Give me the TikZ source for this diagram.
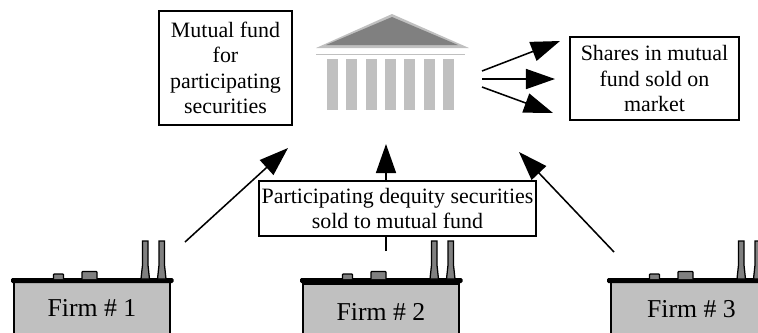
\documentclass[tikz,border=0pt]{standalone}
\usepackage{fontspec}
\setmainfont{Liberation Serif}
\usepackage{tikz}
\usetikzlibrary{arrows.meta, positioning}
\definecolor{bankgray}{HTML}{C0C0C0}
\definecolor{roofgray}{HTML}{808080}
\tikzset{
  labelbox/.style={draw,line width=1.1pt,fill=white,align=center,inner sep=0pt,font=\fontsize{15.6}{18.1}\selectfont},
  firmbox/.style={draw,line width=1.2pt,fill=bankgray,minimum height=56*0.025cm,inner sep=0pt,font=\fontsize{18.3}{20}\selectfont},
  flowarrow/.style={line width=1.1pt,-{Triangle[length=7.25mm,width=5mm]}},
  chimney/.style={draw,line width=.9pt,fill=roofgray}
}
\begin{document}
\begin{tikzpicture}[x=.025cm,y=-.025cm]
      \useasboundingbox(0,0)rectangle(758,332);
      % bank
      \fill[bankgray](392,14)--(316,48)--(469,48)--cycle;
      \fill[roofgray](392,17)--(326,45)--(458,45)--cycle;
      \draw[bankgray,line width=.7pt](316,54)--(465,54);
      \foreach \x in {0,...,6}
        \fill[bankgray](327+\x*19.3,59)rectangle++(11,51);
      % arrows to and from the bank
      \coordinate(bankout1)at(482,71);
      \coordinate(bankout2)at(482,79);
      \coordinate(bankout3)at(482,87);
      \coordinate(mkt1)at(560,41);
      \coordinate(mkt2)at(555,79);
      \coordinate(mkt3)at(553,113);
      \draw[flowarrow](bankout1)--(mkt1);
      \draw[flowarrow](bankout2)--(mkt2);
      \draw[flowarrow](bankout3)--(mkt3);
      \coordinate(from1)at(185,242);
      \coordinate(from2)at(386,251);
      \coordinate(from3)at(614,252);
      \coordinate(bank1)at(288,148);
      \coordinate(bank2)at(386,144);
      \coordinate(bank3)at(519,152);
      \draw[flowarrow](from1)--(bank1);
      \draw[flowarrow](from2)--(bank2);
      \draw[flowarrow](from3)--(bank3);
      % boxes
      \node[labelbox,minimum width=133*0.025cm,minimum height=114*0.025cm](fund)at(225.5,68){Mutual fund\\for\\participating\\securities};
      \node[labelbox,minimum width=169*0.025cm,minimum height=83*0.025cm](shares)at(654.5,78.5){Shares in mutual\\fund sold on\\market};
      \node[labelbox,minimum width=277*0.025cm,minimum height=55*0.025cm](sold)at(397.5,208.5){Participating dequity securities\\sold to mutual fund};
      % firms
      \foreach \off/\txt/\name/\ty/\cx/\boxw in {0/1/firm1/308/92/156,289/2/firm2/312/381/156,596/3/firm3/309/691.5/161}{
        \node[firmbox,minimum width=\boxw*0.025cm](\name)at(\cx,\ty){Firm \# \txt};
        \fill[rounded corners=1pt](11+\off,278)rectangle(173.5+\off,283);
        \draw[chimney,line width=.8pt,rounded corners=.5pt](53.5+\off,279)--++(0,-5)--++(10,0)--++(0,5);
        \draw[chimney,line width=.8pt,rounded corners=.5pt](82+\off,279)--++(0,-7.5)--++(15,0)--++(0,7.5);
        \draw[chimney](141+\off,279)--++(1.5,-14)--++(0,-24)--++(5.5,0)--++(0,24)--++(1.5,14)--cycle;
        \draw[chimney](157.5+\off,279)--++(1.5,-14)--++(0,-24)--++(5.5,0)--++(0,24)--++(1.5,14)--cycle;
      }
    \end{tikzpicture}
\end{document}
